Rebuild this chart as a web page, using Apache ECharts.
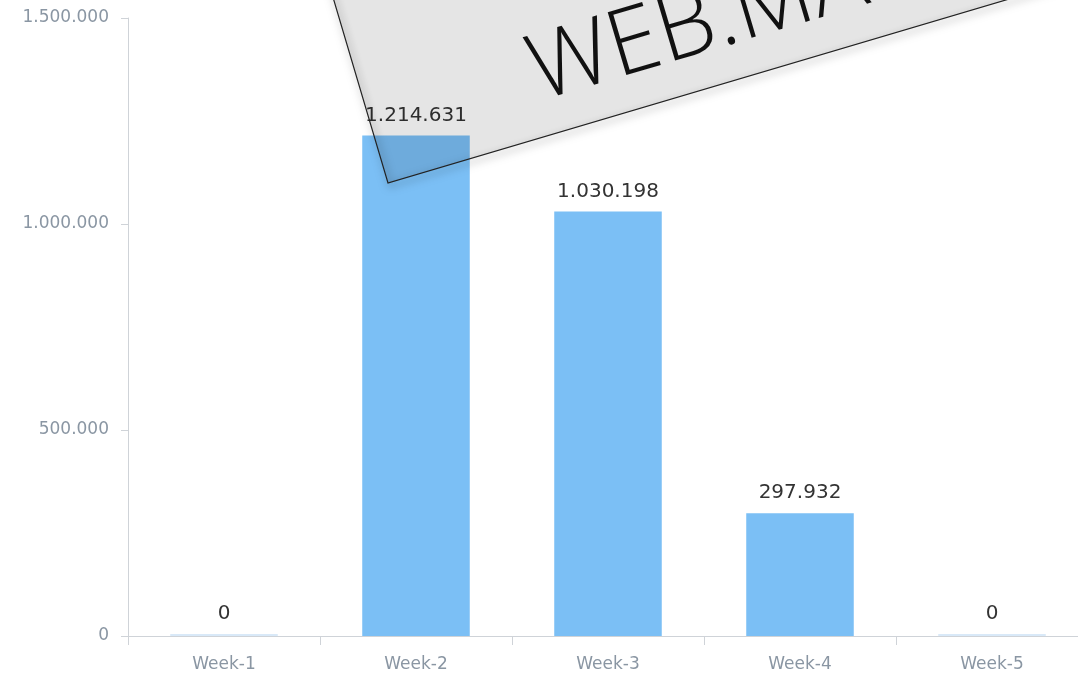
<!DOCTYPE html>
<html>
<head>
<meta charset="utf-8">
<script src="https://cdn.jsdelivr.net/npm/echarts@6/dist/echarts.min.js"></script>
<style>
    html, body { margin: 0; padding: 0; background: #fff; overflow: hidden; }
    #chart { width: 1088px; height: 673px; }
</style>
</head>
<body>
<div id="chart"></div>
<script>
    var weeks = ['Week-1', 'Week-2', 'Week-3', 'Week-4', 'Week-5'];
    var amounts = [0, 1214631, 1030198, 297932, 0];
    var yTicks = [0, 500000, 1000000, 1500000];
    var bannerText = 'WEB.MA';

    // 1.214.631 style
    function fmt(v) {
        return String(v).replace(/\B(?=(\d{3})+(?!\d))/g, '.');
    }

    var chart = echarts.init(document.getElementById('chart'));
    var angle = 16.5 * Math.PI / 180;

    var option = {
        animation: false,
        grid: {left: 128, right: 0, top: 18, bottom: 37, containLabel: false},
        xAxis: {
            type: 'category',
            data: weeks,
            axisLine: {lineStyle: {color: '#cfd3d8'}},
            axisTick: {show: true, length: 9, lineStyle: {color: '#cfd3d8'}},
            axisLabel: {color: '#8a96a3', fontSize: 17, fontFamily: 'DejaVu Sans', margin: 20}
        },
        yAxis: {
            type: 'value',
            min: yTicks[0],
            max: yTicks[yTicks.length - 1],
            interval: yTicks[1] - yTicks[0],
            splitLine: {show: false},
            axisLine: {show: true, lineStyle: {color: '#cfd3d8'}},
            axisTick: {show: true, length: 7, lineStyle: {color: '#cfd3d8'}},
            axisLabel: {
                color: '#8a96a3', fontSize: 17, fontFamily: 'DejaVu Sans', margin: 19,
                formatter: fmt
            }
        },
        series: [{
            type: 'bar',
            data: amounts,
            barWidth: '56%',
            barMinHeight: 2,
            itemStyle: {
                color: function (p) {
                    return p.value === 0 ? '#d9e9f8' : '#7bbff5';
                }
            },
            label: {
                show: true,
                position: 'top',
                distance: 10,
                color: '#333',
                fontSize: 20,
                fontFamily: 'DejaVu Sans',
                formatter: function (p) { return fmt(p.value); }
            }
        }],
        graphic: [{
            type: 'group',
            x: 388,
            y: 183,
            rotation: angle,
            z: 100,
            children: [{
                // translucent card
                type: 'rect',
                z: 100,
                shape: {x: 0, y: -300, width: 1200, height: 300},
                style: {fill: 'rgba(0,0,0,0.1)'}
            }, {
                // bevel / drop shadow along the edges
                type: 'rect',
                z: 101,
                shape: {x: 0, y: -300, width: 1200, height: 300},
                style: {
                    fill: 'none',
                    stroke: '#222',
                    lineWidth: 1.2,
                    shadowBlur: 8,
                    shadowOffsetX: 2,
                    shadowOffsetY: 3,
                    shadowColor: 'rgba(0,0,0,0.6)'
                }
            }, {
                type: 'text',
                z: 102,
                x: 168,
                y: -16,
                style: {
                    text: bannerText,
                    fill: '#111',
                    font: '300 92px "Open Sans", "DejaVu Sans"',
                    verticalAlign: 'bottom'
                }
            }]
        }]
    };
    chart.setOption(option);
</script>
</body>
</html>
